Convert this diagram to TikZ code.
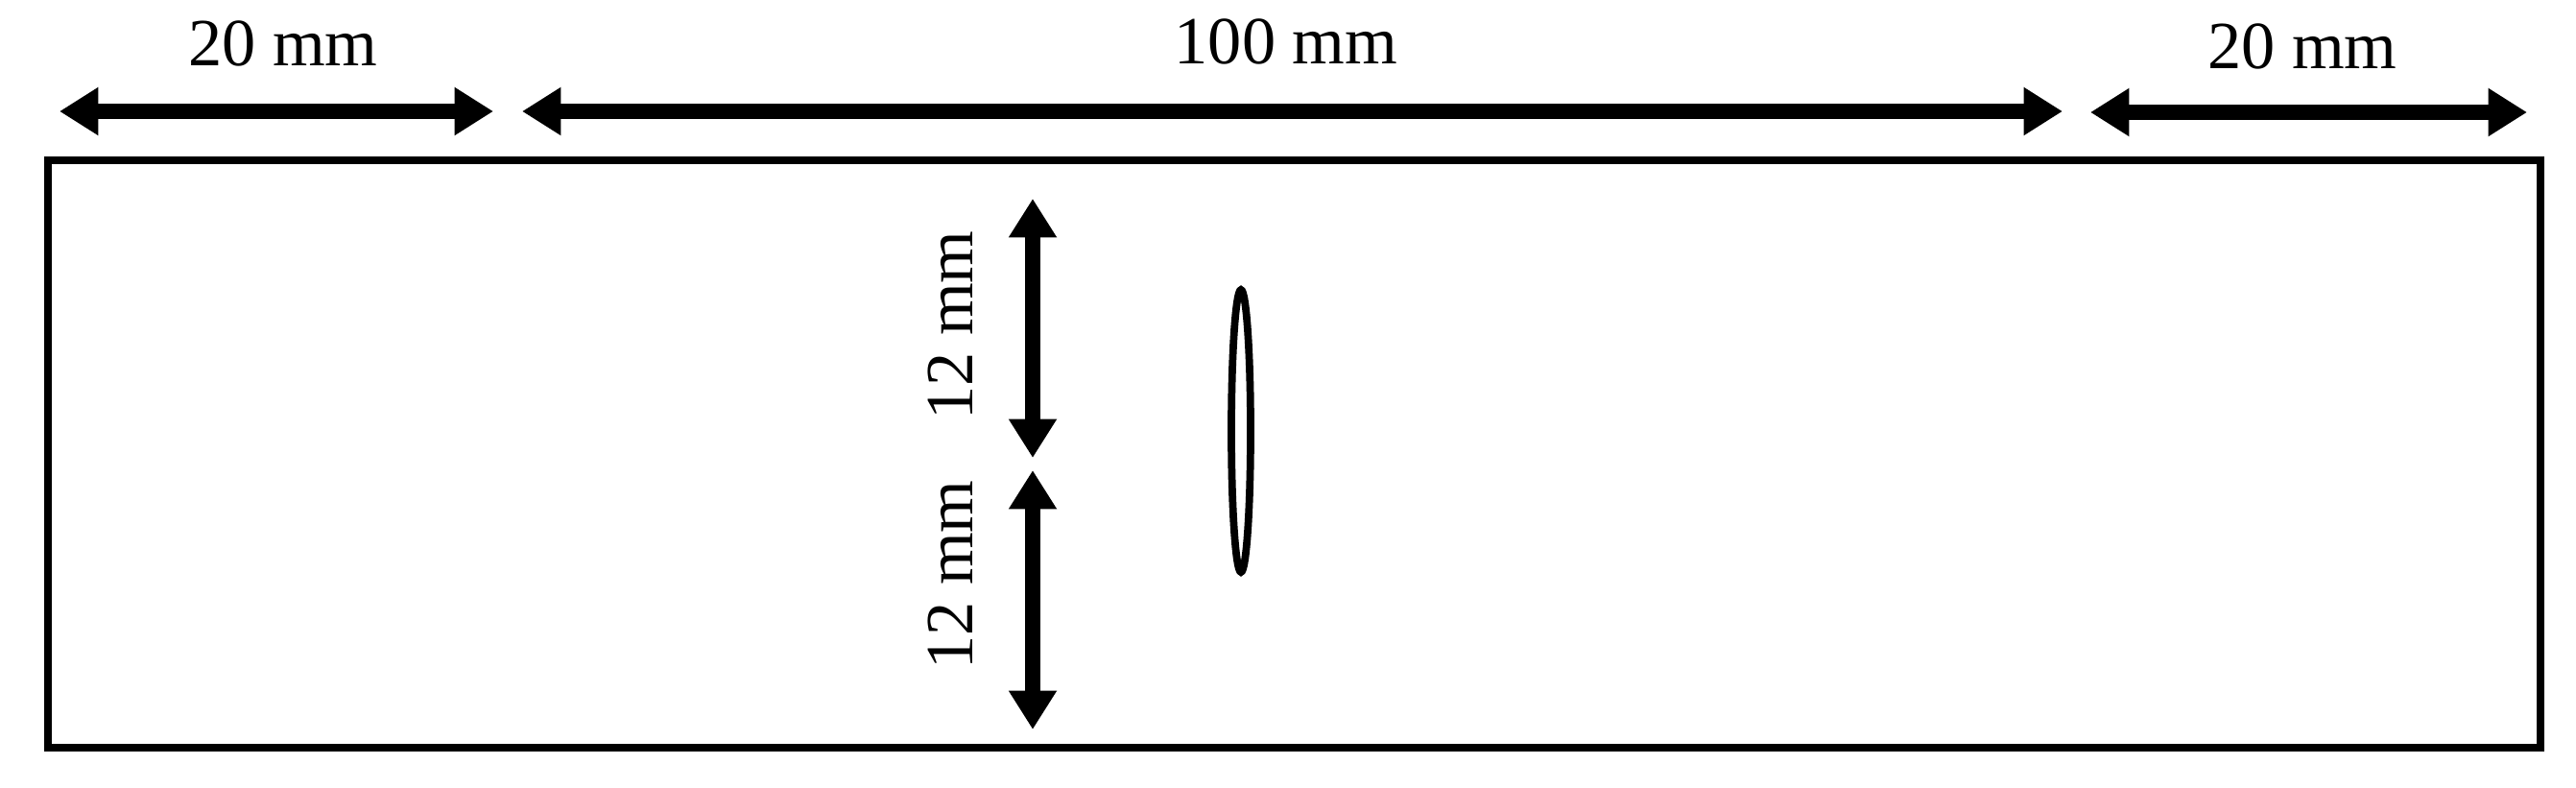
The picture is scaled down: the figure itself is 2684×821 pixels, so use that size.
\documentclass[tikz,border=0pt]{standalone}
\usepackage{fontspec}
\setmainfont{Liberation Serif}
\usetikzlibrary{arrows.meta}
\begin{document}
\begin{tikzpicture}[x=0.01cm,y=-0.01cm,
  dimarrow/.style={line width=4.3pt,{Triangle[length=11.5pt,width=13.5pt]}-{Triangle[length=11.5pt,width=13.5pt]}},
  plate/.style={line width=2.3pt},
  lbl/.style={font=\fontsize{20}{24}\selectfont,inner sep=0pt},
  crack/.style={line width=2.2pt}]
\useasboundingbox (0,0) rectangle (2684,821);
% plate
\draw[plate] (50,167) rectangle (2647,779);
% top dimension arrows
\coordinate (a1) at (62,116);
\coordinate (a2) at (514,116);
\coordinate (b1) at (544,116);
\coordinate (b2) at (2149,116);
\coordinate (c1) at (2178,117);
\coordinate (c2) at (2633,117);
\draw[dimarrow] (a1) -- (a2);
\draw[dimarrow] (b1) -- (b2);
\draw[dimarrow] (c1) -- (c2);
\node[lbl,anchor=base] (t1) at (295,68) {20 mm};
\node[lbl,anchor=base] (t2) at (1340,67) {100 mm};
\node[lbl,anchor=base] (t3) at (2399,71) {20 mm};
% vertical dimension arrows
\coordinate (u1) at (1076,207);
\coordinate (u2) at (1076,477);
\coordinate (l1) at (1076,490);
\coordinate (l2) at (1076,760);
\draw[dimarrow] (u1) -- (u2);
\draw[dimarrow] (l1) -- (l2);
\node[lbl,anchor=base,rotate=90] (v1) at (1013,339) {12 mm};
\node[lbl,anchor=base,rotate=90] (v2) at (1013,599) {12 mm};
% crack
\draw[crack] (1293,449) ellipse [x radius=10,y radius=147];
\end{tikzpicture}
\end{document}
